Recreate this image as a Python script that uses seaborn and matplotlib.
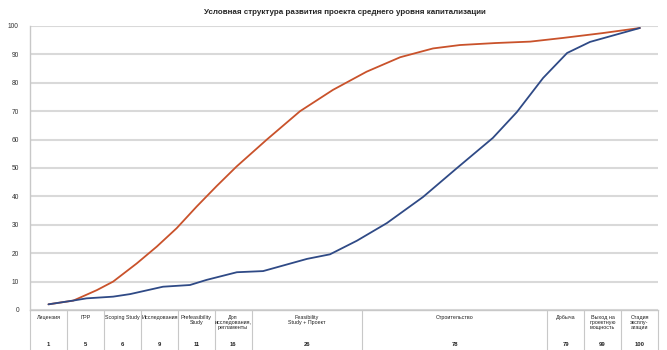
import numpy as np
import pandas as pd
import matplotlib.pyplot as plt
import seaborn as sns

# Data
title = "Условная структура развития проекта среднего уровня капитализации"

stages = ["Лицензия", "ГРР", "Scoping Study", "Исследования", "Prefeasibility\nStudy",
          "Доп\nисследования,\nрегламенты", "Feasibility\nStudy + Проект", "Строительство",
          "Добыча", "Выход на\nпроектную\nмощность", "Стадия\nэксплу-\nатации"]
stage_values = [1, 5, 6, 9, 11, 16, 26, 78, 79, 99, 100]
stage_widths = [1, 1, 1, 1, 1, 1, 3, 5, 1, 1, 1]

# x in "stage width" units (0..17), y in percent
red_x = [0.50, 1.17, 1.81, 2.25, 2.89, 3.43, 3.97, 4.51, 5.05, 5.59, 6.41, 7.31,
         8.20, 9.11, 10.02, 10.91, 11.64, 12.6, 13.54, 14.43, 15.5, 16.51]
red_y = [2.0, 3.3, 7.0, 10.0, 16.4, 22.3, 28.8, 36.4, 43.6, 50.5, 60.0, 70.0,
         77.5, 83.9, 89.0, 92.1, 93.3, 94.0, 94.5, 95.8, 97.5, 99.3]

blue_x = [0.50, 1.16, 1.53, 2.25, 2.71, 3.60, 4.33, 4.78, 5.60, 6.31, 7.50, 8.12,
          8.85, 9.66, 10.64, 11.56, 12.53, 13.18, 13.89, 14.54, 15.16, 16.51]
blue_y = [2.0, 3.3, 4.1, 4.7, 5.6, 8.2, 8.8, 10.6, 13.3, 13.7, 18.0, 19.6,
          24.4, 30.6, 39.8, 50.0, 60.6, 69.7, 81.7, 90.5, 94.4, 99.3]

df = pd.concat([
    pd.DataFrame({"x": red_x, "y": red_y, "s": "red"}),
    pd.DataFrame({"x": blue_x, "y": blue_y, "s": "blue"}),
])

sns.set_style("white")
plt.rcParams["font.family"] = ["Liberation Sans", "DejaVu Sans"]

fig = plt.figure(figsize=(6.67, 3.5), dpi=100)
ax = fig.add_axes([30 / 667, 1 - 310 / 350, 628 / 667, 284 / 350])

sns.lineplot(data=df, x="x", y="y", hue="s", estimator=None, sort=True,
             palette={"red": "#c9522b", "blue": "#2f4a86"}, linewidth=1.3,
             legend=False, ax=ax, zorder=3)

ax.set_xlim(0, sum(stage_widths))
ax.set_ylim(0, 100)
ax.set_yticks(range(0, 101, 10))
ax.set_xticks([])
ax.set_xlabel("")
ax.set_ylabel("")
ax.tick_params(axis="y", labelsize=4.8, length=0, pad=8, colors="#333333")
ax.yaxis.grid(True, color="#d9d9d9", linewidth=1.5)
ax.set_axisbelow(True)
for side in ["top", "right"]:
    ax.spines[side].set_visible(False)
for side in ["left", "bottom"]:
    ax.spines[side].set_color("#c8c8c8")
    ax.spines[side].set_linewidth(1.0)

fig.text(345 / 667, 1 - 12 / 350, title, ha="center", va="center",
         fontsize=5.8, fontweight="bold")

# stage table under the axis
edges = np.concatenate([[0], np.cumsum(stage_widths)])
for e in edges:
    ax.plot([e, e], [0, -16], color="#c8c8c8", lw=0.8, clip_on=False)
for i, (name, val) in enumerate(zip(stages, stage_values)):
    cx = (edges[i] + edges[i + 1]) / 2
    ax.text(cx, -1.6, name, ha="center", va="top", fontsize=3.9,
            linespacing=1.1, color="#222222", clip_on=False)
    ax.text(cx, -12.0, str(val), ha="center", va="center", fontsize=4.2,
            fontweight="bold", color="#222222", clip_on=False)

fig.savefig("out.png", dpi=100)
